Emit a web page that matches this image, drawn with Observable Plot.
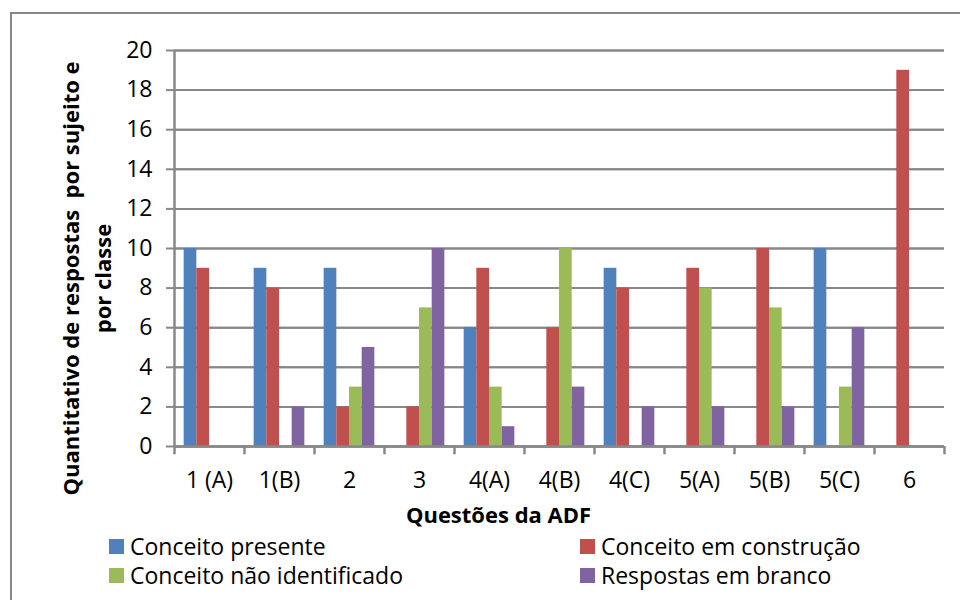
<!DOCTYPE html>
<html>
<head>
<meta charset="utf-8">
<script src="https://cdn.jsdelivr.net/npm/d3@7"></script>
<script src="https://cdn.jsdelivr.net/npm/@observablehq/plot@0.6"></script>
<style>
  html, body { margin: 0; padding: 0; background: #fff; overflow: hidden; }
  #wrap { position: relative; width: 960px; height: 600px; overflow: hidden; font-family: "Open Sans", sans-serif; }
  #border { position: absolute; left: 10px; top: 12px; width: 1000px; height: 700px; border: 2.5px solid #888; box-sizing: border-box; }
  #chart { position: absolute; left: 0; top: 0; }
  .leg { position: absolute; display: flex; align-items: center; font-size: 23px; color: #000; white-space: nowrap; }
  .sw { width: 15px; height: 15px; margin-right: 6px; }
</style>
</head>
<body>
<div id="wrap">
  <div id="border"></div>
  <div id="chart"></div>
</div>
<script>
const categories = ["1 (A)", "1(B)", "2", "3", "4(A)", "4(B)", "4(C)", "5(A)", "5(B)", "5(C)", "6"];
const series = ["Conceito presente", "Conceito em construção", "Conceito não identificado", "Respostas em branco"];
const colors = ["#4F81BD", "#C0504D", "#9BBB59", "#8064A2"];
const conceitoPresente      = [10, 9, 9, 0, 6, 0, 9, 0, 0, 10, 0];
const conceitoEmConstrucao  = [9, 8, 2, 2, 9, 6, 8, 9, 10, 0, 19];
const conceitoNaoIdent      = [0, 0, 3, 7, 3, 10, 0, 8, 7, 3, 0];
const respostasEmBranco     = [0, 2, 5, 10, 1, 3, 2, 2, 2, 6, 0];
const yTicks = [0, 2, 4, 6, 8, 10, 12, 14, 16, 18, 20];

const valuesBySeries = [conceitoPresente, conceitoEmConstrucao, conceitoNaoIdent, respostasEmBranco];
const table = [];
categories.forEach((c, i) => {
  series.forEach((s, k) => {
    table.push({cat: c, ci: i, series: s, si: k, value: valuesBySeries[k][i]});
  });
});

// within each category band: outer padding and bar width (fractions of a band)
const barW = 0.181;
const pad = (1 - series.length * barW) / 2;

const gray = "#888";
const chart = Plot.plot({
  width: 960,
  height: 600,
  marginLeft: 174,
  marginRight: 16,
  marginTop: 50,
  marginBottom: 154,
  style: {fontFamily: "Open Sans", fontSize: "23px", background: "transparent", color: "#000"},
  x: {domain: [0, categories.length], axis: null},
  y: {domain: [0, 20], axis: null},
  color: {domain: series, range: colors},
  marks: [
    Plot.ruleY(yTicks, {stroke: gray, strokeWidth: 2, x1: 0, x2: categories.length}),
    Plot.tickY(yTicks, {stroke: gray, strokeWidth: 2}),
    Plot.rectY(table.filter(d => d.value > 0), {
      x1: d => d.ci + pad + d.si * barW,
      x2: d => d.ci + pad + (d.si + 1) * barW,
      y1: 0,
      y2: "value",
      fill: "series"
    }),
    Plot.ruleX(d3.range(categories.length + 1), {y1: 0, y2: -0.42, stroke: gray, strokeWidth: 2.5}),
    Plot.ruleX([0], {y1: 0, y2: 20, stroke: gray, strokeWidth: 2.5}),
    Plot.ruleY([0], {x1: 0, x2: categories.length, stroke: gray, strokeWidth: 2.5}),
    Plot.axisY({ticks: yTicks, tickSize: 8, stroke: gray, strokeWidth: 2, tickPadding: 14, fontSize: 23, fontFamily: "Open Sans", label: null}),
    Plot.text(categories, {x: (d, i) => i + 0.5, y: 0, dy: 34, text: d => d, fontSize: 23, fontFamily: "Open Sans", fill: "#000"}),
    Plot.text(["Questões da ADF"], {frameAnchor: "bottom", textAnchor: "middle", lineAnchor: "middle", dx: -61, dy: 69, fontWeight: "bold", fontSize: 22, fontFamily: "Open Sans", fill: "#000"}),
    Plot.text(["Quantitativo de respostas  por sujeito e\npor classe"], {frameAnchor: "left", textAnchor: "middle", lineAnchor: "middle", dx: -90, dy: 30, rotate: -90, lineHeight: 1.45, fontWeight: "bold", fontSize: 22, fontFamily: "Open Sans", fill: "#000"})
  ]
});
document.getElementById("chart").appendChild(chart);

// legend (two columns, two rows)
const legPos = [[109, 530], [580, 530], [109, 559], [580, 559]];
const wrap = document.getElementById("wrap");
series.forEach((s, k) => {
  const el = document.createElement("div");
  el.className = "leg";
  el.style.left = legPos[k][0] + "px";
  el.style.top = legPos[k][1] + "px";
  el.innerHTML = `<div class="sw" style="background:${colors[k]}"></div><span>${s}</span>`;
  wrap.appendChild(el);
});
</script>
</body>
</html>
